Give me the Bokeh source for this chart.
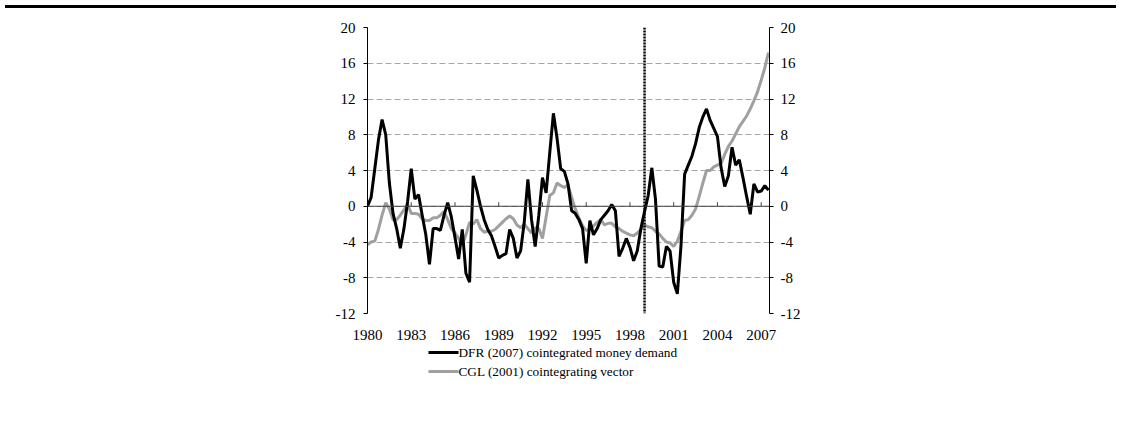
from bokeh.plotting import figure
from bokeh.models import LinearAxis, FixedTicker, Span, Div, Range1d
from bokeh.layouts import column
from bokeh.core.properties import value
from bokeh.embed import file_html
from bokeh.resources import INLINE

# quarterly observations 1980Q1 .. 2007Q3
years = [1980 + 0.25 * i for i in range(111)]

dfr = [0.0, 1.0, 4.2, 7.4,
       9.7, 8.0, 2.6, -0.8,
       -2.5, -4.7, -2.5, 0.5,
       4.2, 0.8, 1.3, -1.0,
       -3.2, -6.5, -2.5, -2.5,
       -2.7, -1.0, 0.4, -1.2,
       -3.5, -5.9, -2.6, -7.5,
       -8.5, 3.4, 1.8, 0.0,
       -1.5, -2.6, -3.3, -4.5,
       -5.8, -5.5, -5.3, -2.6,
       -3.6, -5.8, -5.0, -1.8,
       3.0, -1.5, -4.5, -1.0,
       3.2, 1.5, 6.0, 10.4,
       7.6, 4.2, 3.9, 2.5,
       -0.5, -0.8, -1.5, -2.5,
       -6.4, -1.6, -3.2, -2.5,
       -1.5, -1.0, -0.5, 0.2,
       -0.5, -5.6, -4.7, -3.6,
       -4.6, -6.1, -5.0, -2.5,
       -0.6, 1.2, 4.3, 0.8,
       -6.7, -6.8, -4.5, -5.0,
       -8.5, -9.8, -4.4, 3.6,
       4.6, 5.6, 7.0, 8.8,
       10.0, 10.9, 9.6, 8.7,
       7.8, 4.3, 2.2, 3.4,
       6.6, 4.6, 5.2, 3.2,
       1.1, -0.9, 2.5, 1.6,
       1.7, 2.3, 1.8]

cgl = [-4.3, -4.0, -3.9, -2.6,
       -1.0, 0.4, -0.3, -1.5,
       -1.5, -1.0, -0.4, 0.2,
       -0.8, -0.8, -0.9, -1.4,
       -1.6, -1.6, -1.3, -1.3,
       -1.0, -0.6, -1.5, -2.5,
       -3.0, -3.6, -4.3, -3.2,
       -1.8, -2.0, -1.5, -2.5,
       -2.9, -2.8, -2.8, -2.6,
       -2.2, -1.8, -1.4, -1.1,
       -1.4, -2.1, -2.4, -2.0,
       -2.5, -3.0, -2.4, -2.5,
       -3.6, -1.2, 1.2, 1.5,
       2.6, 2.3, 2.1, 2.4,
       1.0, -0.3, -1.3, -2.2,
       -2.7, -2.6, -2.2, -1.8,
       -1.5, -2.1, -1.9, -1.9,
       -2.3, -2.5, -2.8, -3.0,
       -3.2, -3.3, -3.0, -2.6,
       -2.1, -2.3, -2.4, -2.8,
       -3.1, -3.6, -4.0, -4.1,
       -4.5, -3.9, -2.8, -1.6,
       -1.5, -1.0, -0.3, 1.1,
       2.6, 4.0, 4.0, 4.4,
       4.6, 4.8, 5.8, 6.7,
       7.3, 8.1, 8.9, 9.5,
       10.1, 10.9, 11.8, 12.8,
       14.1, 15.5, 17.2]

x_ticks = [1980, 1983, 1986, 1989, 1992, 1995, 1998, 2001, 2004, 2007]
y_ticks = [-12, -8, -4, 0, 4, 8, 12, 16, 20]
break_year = 1999
labels = ["DFR (2007) cointegrated money demand", "CGL (2001) cointegrating vector"]
series_colors = ["black", "#a0a0a0"]

FONT = "Liberation Serif"

top_rule = Div(text="", width=1111, height=3,
               styles={"background-color": "black"})

p = figure(width=1111, height=330, output_backend="svg", toolbar_location=None,
           x_range=Range1d(1980, 2007.57), y_range=Range1d(-12, 20),
           min_border_left=367, min_border_right=342,
           min_border_top=14, min_border_bottom=30)
p.outline_line_color = None
p.background_fill_color = "white"

# grid
p.xgrid.visible = False
p.ygrid.ticker = FixedTicker(ticks=y_ticks)
p.ygrid.grid_line_color = "#a6a6a6"
p.ygrid.grid_line_dash = "6 3"
p.ygrid.grid_line_width = 1

# bottom axis: labels only
xa = p.xaxis[0]
xa.ticker = FixedTicker(ticks=x_ticks)
xa.axis_line_color = None
xa.major_tick_line_color = None
xa.minor_tick_line_color = None
xa.major_label_standoff = 10
xa.major_label_text_font = FONT
xa.major_label_text_font_size = "15px"
xa.major_label_text_color = "black"

overrides = {v: str(v) for v in y_ticks}


def style_y(ax, standoff):
    ax.ticker = FixedTicker(ticks=y_ticks)
    ax.major_label_overrides = overrides
    ax.axis_line_color = "black"
    ax.axis_line_width = 1
    ax.major_tick_line_color = "black"
    ax.major_tick_out = 4
    ax.major_tick_in = 0
    ax.minor_tick_line_color = None
    ax.major_label_standoff = standoff
    ax.major_label_text_font = FONT
    ax.major_label_text_font_size = "15px"
    ax.major_label_text_color = "black"


style_y(p.yaxis[0], 8)
ry = LinearAxis()
style_y(ry, 7)
p.add_layout(ry, "right")

# zero line with upward tick marks
p.add_layout(Span(location=0, dimension="width", line_color="#404040", line_width=1))
p.segment(x0=x_ticks, y0=[0] * len(x_ticks), x1=x_ticks, y1=[0.45] * len(x_ticks),
          line_color="#404040", line_width=1)

# structural break (1999)
p.add_layout(Span(location=break_year, dimension="height", line_color="black",
                  line_width=2.5, line_dash="2 1"))

p.line(years, cgl, line_color=series_colors[1], line_width=3)
p.line(years, dfr, line_color=series_colors[0], line_width=3)

# legend strip below the chart; its frame is aligned with the chart frame,
# x coordinates are page pixels (frame spans 367..769)
lg = figure(width=1111, height=50, output_backend="svg", toolbar_location=None,
            x_range=Range1d(367, 769), y_range=Range1d(50, 0),
            x_axis_location=None, y_axis_location=None,
            min_border_left=367, min_border_right=342,
            min_border_top=0, min_border_bottom=0)
lg.outline_line_color = None
lg.xgrid.visible = False
lg.ygrid.visible = False
row_y = [9, 28]
lg.segment(x0=[428, 428], y0=row_y, x1=[458, 458], y1=row_y,
           line_color=series_colors, line_width=3)
lg.text(x=[458, 458], y=row_y, text=labels, text_font=value(FONT),
        text_font_size="13.3px", text_baseline="middle", text_align="left",
        text_color="black")

layout = column(top_rule, p, lg)
open("out.html", "w").write(file_html(layout, INLINE))
